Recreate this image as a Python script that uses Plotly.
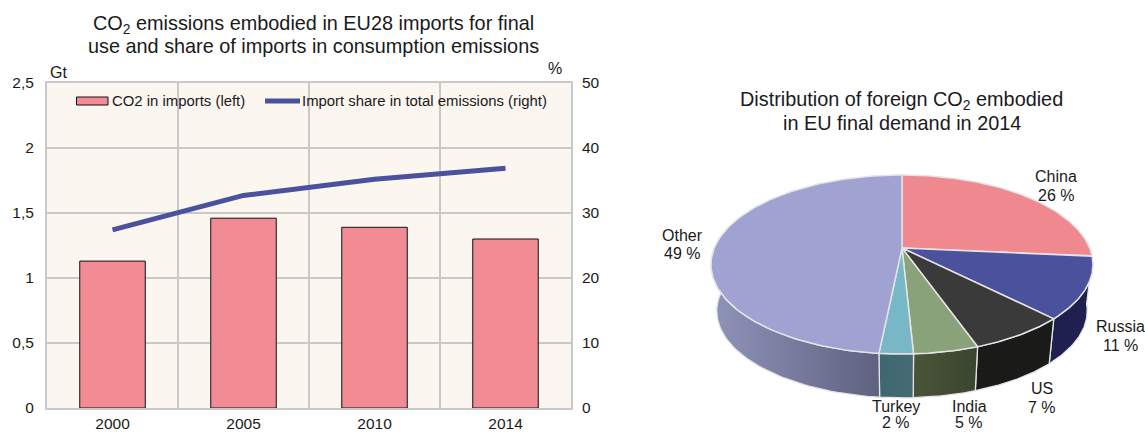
import numpy as np
import plotly.graph_objects as go

# ---------- data ----------
years = ["2000", "2005", "2010", "2014"]
co2_imports = [1.13, 1.46, 1.39, 1.30]
import_share = [27.4, 32.7, 35.2, 36.9]
left_ticks = [0, 0.5, 1, 1.5, 2, 2.5]
left_tick_text = ["0", "0,5", "1", "1,5", "2", "2,5"]
right_ticks = [0, 10, 20, 30, 40, 50]
bar_name = "CO2 in imports (left)"
line_name = "Import share in total emissions (right)"

countries = ["China", "Russia", "US", "India", "Turkey", "Other"]
shares = [26.4, 11.2, 7.0, 4.6, 2.4, 48.4]
share_text = ["26 %", "11 %", "7 %", "5 %", "2 %", "49 %"]

# ---------- styling ----------
W, H = 1145, 433
FONT = "Liberation Sans, Arial, sans-serif"
TXT = "#1a1a1a"
GRID = "#c9c9c9"
BG = "#fbf6f0"
PINK = "#f28b94"
BLUE = "#4c519e"
top_colors = ["#f0898f", "#4c519e", "#3a3a3a", "#8aa27a", "#78b7c5", "#a0a3d2"]
side_colors = [("#a0545a", "#a0545a"), ("#1e2050", "#1e2050"), ("#1a1a18", "#1a1a18"),
               ("#4a5438", "#3a4530"), ("#3f6770", "#456b73"), ("#8f94ba", "#5f6180")]
EDGE = "#e4e4e4"


def px_x(p):
    return p / W


def px_y(p):
    return 1 - p / H


fig = go.Figure()
x_pos = list(range(len(years)))

fig.add_trace(go.Bar(x=x_pos, y=co2_imports, name=bar_name, width=0.5, showlegend=False,
                     marker=dict(color=PINK, line=dict(color="#111111", width=1)),
                     xaxis="x", yaxis="y"))
fig.add_trace(go.Scatter(x=x_pos, y=import_share, name=line_name, showlegend=False,
                         mode="lines", line=dict(color=BLUE, width=5),
                         xaxis="x", yaxis="y2"))

# ---------- perspective pie (no 3D pie in Plotly: projected from the shares) ----------
RX, RY, K = 187.7, 86.5, 0.184
S, D = 0.97, 47.0


def top(t):
    u, v = np.sin(t), -np.cos(t)
    return RX * u / (1 - K * v), RY * v / (1 - K * v)


def bottom(t):
    x, y = top(t)
    return S * x, D + S * y


total = sum(shares)
edges = np.radians(np.cumsum([0] + shares) / total * 360)
VIS0, VIS1 = np.radians(96), np.radians(281)

for i, name in enumerate(countries):
    a, b = max(edges[i], VIS0), min(edges[i + 1], VIS1)
    if b <= a:
        continue
    t = np.linspace(a, b, 60)
    tx, ty = top(t)
    bx, by = bottom(t[::-1])
    fig.add_trace(go.Scatter(
        x=np.r_[tx, bx, tx[0]], y=np.r_[ty, by, ty[0]], mode="lines", fill="toself",
        fillgradient=dict(type="horizontal",
                          colorscale=[[0, side_colors[i][0]], [1, side_colors[i][1]]]),
        line=dict(color=EDGE, width=1.3), showlegend=False, hoverinfo="skip",
        xaxis="x3", yaxis="y3"))

for i, name in enumerate(countries):
    t = np.linspace(edges[i], edges[i + 1], 120)
    tx, ty = top(t)
    fig.add_trace(go.Scatter(
        x=np.r_[0, tx, 0], y=np.r_[0, ty, 0], mode="lines", fill="toself",
        fillcolor=top_colors[i], line=dict(color=EDGE, width=1.5),
        showlegend=False, name=name, hoverinfo="name", xaxis="x3", yaxis="y3"))

# ---------- axes ----------
AX = dict(family=FONT, size=15.5, color=TXT)
L, R, T, B = 47, 571, 83, 408
PIE_L, PIE_R, PIE_T, PIE_B = 641, 1145, 150, 433
CX, CY = 902, 248

fig.update_layout(
    width=W, height=H, margin=dict(l=0, r=0, t=0, b=0, autoexpand=False), autosize=False,
    paper_bgcolor="white", plot_bgcolor="white", font=dict(family=FONT, color=TXT),
    showlegend=False,
    xaxis=dict(domain=[px_x(L), px_x(R)], range=[-0.5, 3.5], tickmode="array",
               tickvals=x_pos, ticktext=years, ticks="", showgrid=False, zeroline=False,
               showline=True, linecolor=GRID, linewidth=2, mirror=True, tickfont=AX,
               minor=dict(tickmode="array", tickvals=[0.5, 1.5, 2.5], showgrid=True,
                          gridcolor=GRID, gridwidth=1.5, ticks=""),
               anchor="y"),
    yaxis=dict(domain=[px_y(B), px_y(T)], range=[0, 2.5], tickmode="array",
               tickvals=left_ticks, ticktext=left_tick_text, ticks="", gridcolor=GRID,
               gridwidth=1.5, zeroline=False, showline=True, linecolor=GRID, linewidth=2,
               mirror=True, tickfont=AX, anchor="x", ticklabelstandoff=8),
    yaxis2=dict(domain=[px_y(B), px_y(T)], range=[0, 50], tickmode="array",
                tickvals=right_ticks, ticks="", showgrid=False, zeroline=False,
                overlaying="y", side="right", anchor="x", tickfont=AX, ticklabelstandoff=10),
    xaxis3=dict(domain=[px_x(PIE_L), px_x(PIE_R)], range=[PIE_L - CX, PIE_R - CX],
                visible=False, anchor="y3"),
    yaxis3=dict(domain=[px_y(PIE_B), px_y(PIE_T)], range=[PIE_B - CY, PIE_T - CY],
                visible=False, anchor="x3"),
    shapes=[
        # plot background of the left panel only
        dict(type="rect", xref="paper", yref="paper", layer="below",
             x0=px_x(L), x1=px_x(R), y0=px_y(B), y1=px_y(T), fillcolor=BG, line=dict(width=0)),
        # legend band hides the vertical grid lines
        dict(type="rect", xref="paper", yref="paper", layer="between",
             x0=px_x(L + 2), x1=px_x(R - 2), y0=px_y(115), y1=px_y(T + 2),
             fillcolor=BG, line=dict(width=0)),
        # legend swatches
        dict(type="rect", xref="paper", yref="paper", layer="above",
             x0=px_x(76.5), x1=px_x(108), y0=px_y(105), y1=px_y(97),
             fillcolor=PINK, line=dict(color="#111111", width=1)),
        dict(type="line", xref="paper", yref="paper", layer="above",
             x0=px_x(265), x1=px_x(300), y0=px_y(101), y1=px_y(101),
             line=dict(color=BLUE, width=5)),
    ],
)


def note(text, x, y, size=16, xanchor="center"):
    fig.add_annotation(text=text, xref="paper", yref="paper", x=px_x(x), y=px_y(y),
                       xanchor=xanchor, yanchor="middle", showarrow=False, align="center",
                       borderpad=0, borderwidth=0,
                       font=dict(family=FONT, size=size, color=TXT))


TS = 19.85
note("CO<sub>2</sub> emissions embodied in EU28 imports for final", 313.5, 25, TS)
note("use and share of imports in consumption emissions", 313.5, 46, TS)
note("Gt", 58, 72)
note("%", 555, 68)
note(bar_name, 112, 101, 14.9, "left")
note(line_name, 302, 101, 14.9, "left")
note("Distribution of foreign CO<sub>2</sub> embodied", 901.5, 101, TS)
note("in EU final demand in 2014", 901.5, 123, TS)

label_pos = [(1056, 176, 195), (1120, 326, 345), (1042, 388, 407),
             (969, 406, 422.5), (896, 406, 422.5), (682, 235, 254)]
for name, txt, (lx, y1, y2) in zip(countries, share_text, label_pos):
    note(name, lx, y1)
    note(txt, lx, y2)

fig.write_html("out.html", post_script="document.body.style.margin='0';",
               config={"displayModeBar": False})
